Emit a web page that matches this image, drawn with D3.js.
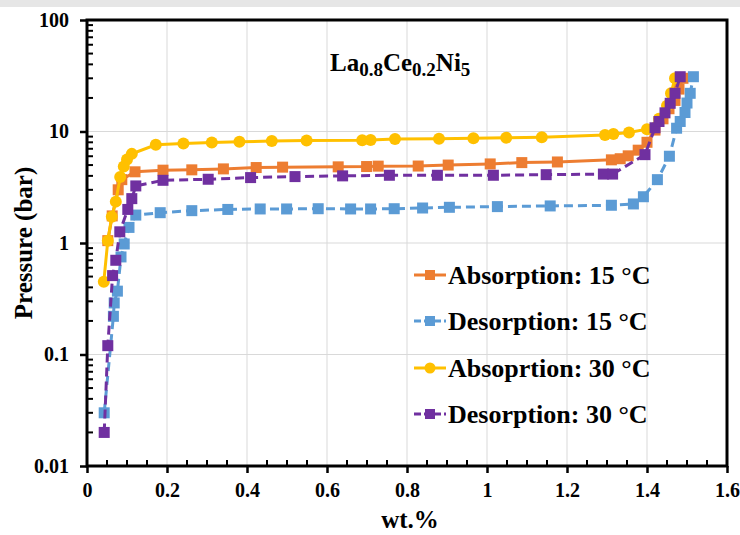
<!DOCTYPE html>
<html>
<head>
<meta charset="utf-8">
<script src="https://cdn.jsdelivr.net/npm/d3@7"></script>
<style>
  body { margin: 0; background: #fff; }
  svg text { font-family: "Liberation Serif", "Times New Roman", serif; font-weight: bold; fill: #000; }
</style>
</head>
<body>
<svg id="chart" width="740" height="535"></svg>
<script>
// values
const abs15X = [0.052, 0.063, 0.078, 0.087, 0.12, 0.19, 0.262, 0.341, 0.423, 0.489, 0.628, 0.699, 0.728, 0.828, 0.903, 1.008, 1.087, 1.176, 1.311, 1.333, 1.353, 1.378, 1.40, 1.42, 1.44, 1.455, 1.47, 1.48, 1.49];
const abs15P = [1.05, 1.75, 3.0, 3.7, 4.35, 4.5, 4.53, 4.62, 4.75, 4.79, 4.82, 4.85, 4.89, 4.9, 5.0, 5.12, 5.26, 5.33, 5.57, 5.7, 6.05, 6.8, 8.0, 10.3, 13, 16, 19, 24, 30];

const des15X = [0.043, 0.066, 0.068, 0.076, 0.085, 0.093, 0.105, 0.122, 0.183, 0.262, 0.352, 0.433, 0.499, 0.578, 0.659, 0.709, 0.768, 0.839, 0.906, 1.026, 1.158, 1.311, 1.366, 1.391, 1.426, 1.456, 1.474, 1.483, 1.495, 1.50, 1.508, 1.516];
const des15P = [0.03, 0.22, 0.29, 0.37, 0.75, 0.98, 1.38, 1.78, 1.87, 1.95, 2.0, 2.02, 2.02, 2.03, 2.02, 2.02, 2.03, 2.06, 2.09, 2.12, 2.15, 2.18, 2.24, 2.6, 3.7, 6.0, 10.7, 12.3, 14.8, 18, 22, 31];

const abs30X = [0.042, 0.052, 0.062, 0.072, 0.083, 0.092, 0.100, 0.112, 0.172, 0.241, 0.312, 0.381, 0.462, 0.549, 0.688, 0.709, 0.770, 0.880, 0.966, 1.048, 1.137, 1.295, 1.316, 1.355, 1.400, 1.430, 1.450, 1.460, 1.470];
const abs30P = [0.45, 1.05, 1.72, 2.35, 3.9, 4.85, 5.6, 6.3, 7.6, 7.8, 7.95, 8.1, 8.2, 8.3, 8.35, 8.4, 8.55, 8.6, 8.7, 8.8, 8.9, 9.3, 9.5, 9.8, 10.5, 13, 17, 22, 30];

const des30X = [0.043, 0.052, 0.064, 0.072, 0.082, 0.102, 0.112, 0.122, 0.19, 0.303, 0.409, 0.52, 0.639, 0.756, 0.876, 1.016, 1.148, 1.291, 1.314, 1.395, 1.42, 1.43, 1.445, 1.458, 1.47, 1.483];
const des30P = [0.02, 0.12, 0.51, 0.7, 1.26, 2.0, 2.5, 3.25, 3.65, 3.73, 3.86, 3.94, 4.0, 4.05, 4.05, 4.05, 4.1, 4.15, 4.15, 6.2, 10.8, 12.3, 14.7, 17.9, 22, 31];

const seriesNames = ["Absorption: 15 °C", "Desorption: 15 °C", "Absoprtion: 30 °C", "Desorption: 30 °C"];
const xTicks = [0, 0.2, 0.4, 0.6, 0.8, 1, 1.2, 1.4, 1.6];
const yTicks = [0.01, 0.1, 1, 10, 100];
const yTickLabels = ["0.01", "0.1", "1", "10", "100"];

const series = [
  {name: seriesNames[0], x: abs15X, p: abs15P, color: "#ED7D31", dash: null, shape: "square"},
  {name: seriesNames[1], x: des15X, p: des15P, color: "#5B9BD5", dash: "9,5", shape: "square"},
  {name: seriesNames[2], x: abs30X, p: abs30P, color: "#FFC000", dash: null, shape: "circle"},
  {name: seriesNames[3], x: des30X, p: des30P, color: "#7030A0", dash: "9,5", shape: "square"}
];

const pLeft = 87, pRight = 727, pTop = 20, pBottom = 466;
const svg = d3.select("#chart");

// light strip at the very top of the picture
svg.append("rect").attr("x", 0).attr("y", 0).attr("width", 740).attr("height", 7).attr("fill", "#e6e6e6");

const x = d3.scaleLinear().domain([0, 1.6]).range([pLeft, pRight]);
const y = d3.scaleLog().domain([0.01, 100]).range([pBottom, pTop]);

// grid
svg.append("g").selectAll("line").data(xTicks.slice(1, -1)).join("line")
  .attr("x1", d => x(d)).attr("x2", d => x(d)).attr("y1", pTop).attr("y2", pBottom)
  .attr("stroke", "#d9d9d9").attr("stroke-width", 1);
svg.append("g").selectAll("line").data(yTicks.slice(1, -1)).join("line")
  .attr("x1", pLeft).attr("x2", pRight).attr("y1", d => y(d)).attr("y2", d => y(d))
  .attr("stroke", "#d9d9d9").attr("stroke-width", 1);

// minor ticks (inside)
const xMinor = d3.range(0.05, 1.6, 0.05).filter(v => Math.abs(v / 0.2 - Math.round(v / 0.2)) > 1e-6);
svg.append("g").selectAll("line").data(xMinor).join("line")
  .attr("x1", d => x(d)).attr("x2", d => x(d)).attr("y1", pBottom).attr("y2", pBottom - 6)
  .attr("stroke", "#000").attr("stroke-width", 2);
const yMinor = [];
[0.01, 0.1, 1, 10].forEach(b => { for (let k = 2; k <= 9; k++) yMinor.push(b * k); });
svg.append("g").selectAll("line").data(yMinor).join("line")
  .attr("x1", pLeft).attr("x2", pLeft + 6).attr("y1", d => y(d)).attr("y2", d => y(d))
  .attr("stroke", "#000").attr("stroke-width", 2);

// axes with outside major ticks
const xAxis = svg.append("g").attr("transform", `translate(0,${pBottom})`)
  .call(d3.axisBottom(x).tickValues(xTicks).tickFormat(d3.format("")).tickSize(7).tickSizeOuter(0));
const yAxis = svg.append("g").attr("transform", `translate(${pLeft},0)`)
  .call(d3.axisLeft(y).tickValues(yTicks).tickFormat((d, i) => yTickLabels[i]).tickSize(7).tickSizeOuter(0));
[xAxis, yAxis].forEach(a => {
  a.select(".domain").remove();
  a.selectAll(".tick line").attr("stroke", "#000").attr("stroke-width", 2.5);
  a.selectAll("text").style("font-family", "Liberation Serif").style("font-weight", "bold")
    .style("font-size", "20px").attr("fill", "#000");
});
xAxis.selectAll("text").attr("dy", "1.05em");
yAxis.selectAll("text").attr("x", -18);

// frame
svg.append("rect").attr("x", pLeft).attr("y", pTop).attr("width", pRight - pLeft).attr("height", pBottom - pTop)
  .attr("fill", "none").attr("stroke", "#000").attr("stroke-width", 3);

// series
const line = d3.line().x(d => x(d[0])).y(d => y(d[1]));
function marker(g, shape, color, size) {
  if (shape === "circle") return g.append("circle").attr("r", size / 2 + 0.5).attr("fill", color);
  return g.append("rect").attr("x", -size / 2).attr("y", -size / 2).attr("width", size).attr("height", size).attr("fill", color);
}
series.forEach(s => {
  const pts = s.x.map((v, i) => [v, s.p[i]]);
  const g = svg.append("g");
  g.append("path").datum(pts).attr("d", line).attr("fill", "none")
    .attr("stroke", s.color).attr("stroke-width", 3).attr("stroke-dasharray", s.dash);
  pts.forEach(p => {
    const m = g.append("g").attr("transform", `translate(${x(p[0])},${y(p[1])})`);
    marker(m, s.shape, s.color, 11);
  });
});

// title La0.8Ce0.2Ni5
const title = svg.append("text").attr("x", 330).attr("y", 71).style("font-size", "25px");
[["La", false], ["0.8", true], ["Ce", false], ["0.2", true], ["Ni", false], ["5", true]].forEach(([t, sub], i) => {
  title.append("tspan").text(t)
    .attr("dy", i === 0 ? 0 : (sub ? 5 : -5))
    .style("font-size", sub ? "19px" : "25px");
});

// legend
const legY = [275, 321, 368, 414];
series.forEach((s, i) => {
  const g = svg.append("g").attr("transform", `translate(0,${legY[i]})`);
  g.append("line").attr("x1", 414).attr("x2", 446).attr("y1", 0).attr("y2", 0)
    .attr("stroke", s.color).attr("stroke-width", 3).attr("stroke-dasharray", s.dash ? "7,3" : null);
  const m = g.append("g").attr("transform", "translate(430,0)");
  marker(m, s.shape, s.color, 10);
  g.append("text").attr("x", 448).attr("y", 9).style("font-size", "26px").text(s.name);
});

// axis titles
svg.append("text").attr("x", 410).attr("y", 528).attr("text-anchor", "middle")
  .style("font-size", "25px").text("wt.%");
svg.append("text").attr("transform", `translate(32,${(pTop + pBottom) / 2}) rotate(-90)`)
  .attr("text-anchor", "middle").style("font-size", "25px").text("Pressure (bar)");
</script>
</body>
</html>
